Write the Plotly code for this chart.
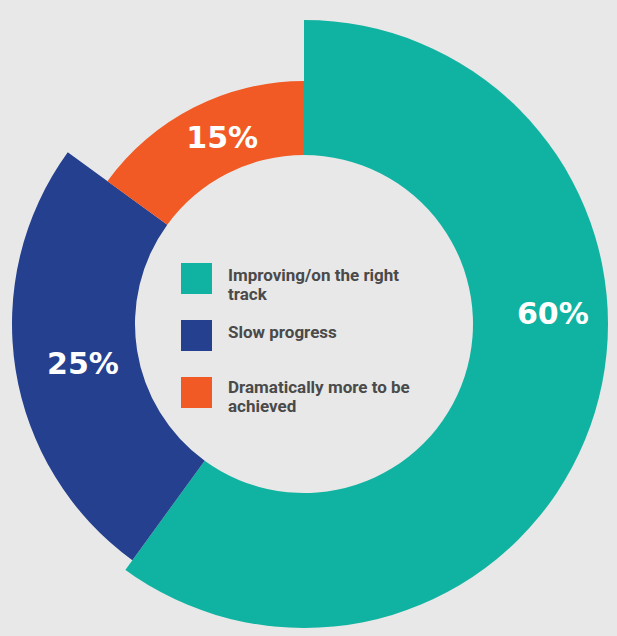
import plotly.graph_objects as go

# ---- data ----
categories = ["Improving/on the right track", "Slow progress", "Dramatically more to be achieved"]
shares = [60, 25, 15]
value_labels = ["60%", "25%", "15%"]
legend_lines = [["Improving/on the right", "track"], ["Slow progress"], ["Dramatically more to be", "achieved"]]

# ---- style ----
COLORS = ["#10B3A1", "#24408E", "#F15A24"]
BG = "#E8E8E8"
W, H = 617, 636
INNER = 169
OUTER = [317, 292, 243]
LABEL_R = [249, 225, 201]
LABEL_THETA_SHIFT = [-19.8, -1.8, 3.0]

total = sum(shares)
widths = [s / total * 360 for s in shares]
centers = []
acc = 0
for w in widths:
    centers.append(acc + w / 2)
    acc += w

fig = go.Figure()
for i, cat in enumerate(categories):
    fig.add_trace(go.Barpolar(
        r=[OUTER[i] - INNER], base=[INNER], theta=[centers[i]], width=[widths[i]],
        marker=dict(color=COLORS[i], line=dict(width=0)),
        name=cat, showlegend=False, hoverinfo="skip",
    ))

fig.add_trace(go.Scatterpolar(
    r=LABEL_R,
    theta=[c + s for c, s in zip(centers, LABEL_THETA_SHIFT)],
    mode="text", text=value_labels,
    textfont=dict(family="DejaVu Sans", size=30, color="white", weight="bold"),
    showlegend=False, hoverinfo="skip",
))

def px(x):
    return x / W

def py(y):
    return (H - y) / H

# legend swatches + text
sw_top = [263, 320, 377]
line_mid = [[275, 294], [332], [387, 406]]
for i in range(len(categories)):
    fig.add_shape(type="rect", xref="paper", yref="paper",
                  x0=px(181), x1=px(212), y0=py(sw_top[i]), y1=py(sw_top[i] + 31),
                  fillcolor=COLORS[i], line=dict(width=0))
    for j, ln in enumerate(legend_lines[i]):
        fig.add_annotation(x=px(226), y=py(line_mid[i][j]), xref="paper", yref="paper",
                           xanchor="left", yanchor="middle", text=ln, showarrow=False,
                           font=dict(family="Roboto", size=17, color="#4A4A4A", weight="bold"))

fig.update_layout(
    width=W, height=H,
    margin=dict(l=0, r=0, t=0, b=0),
    paper_bgcolor=BG, plot_bgcolor=BG,
    polar=dict(
        domain=dict(x=[0, 608 / W], y=[0, 624 / H]),
        bgcolor=BG,
        radialaxis=dict(range=[0, 304], visible=False, showgrid=False),
        angularaxis=dict(visible=False, rotation=90, direction="clockwise", showgrid=False),
        bargap=0,
    ),
)

fig.write_html("out.html")
